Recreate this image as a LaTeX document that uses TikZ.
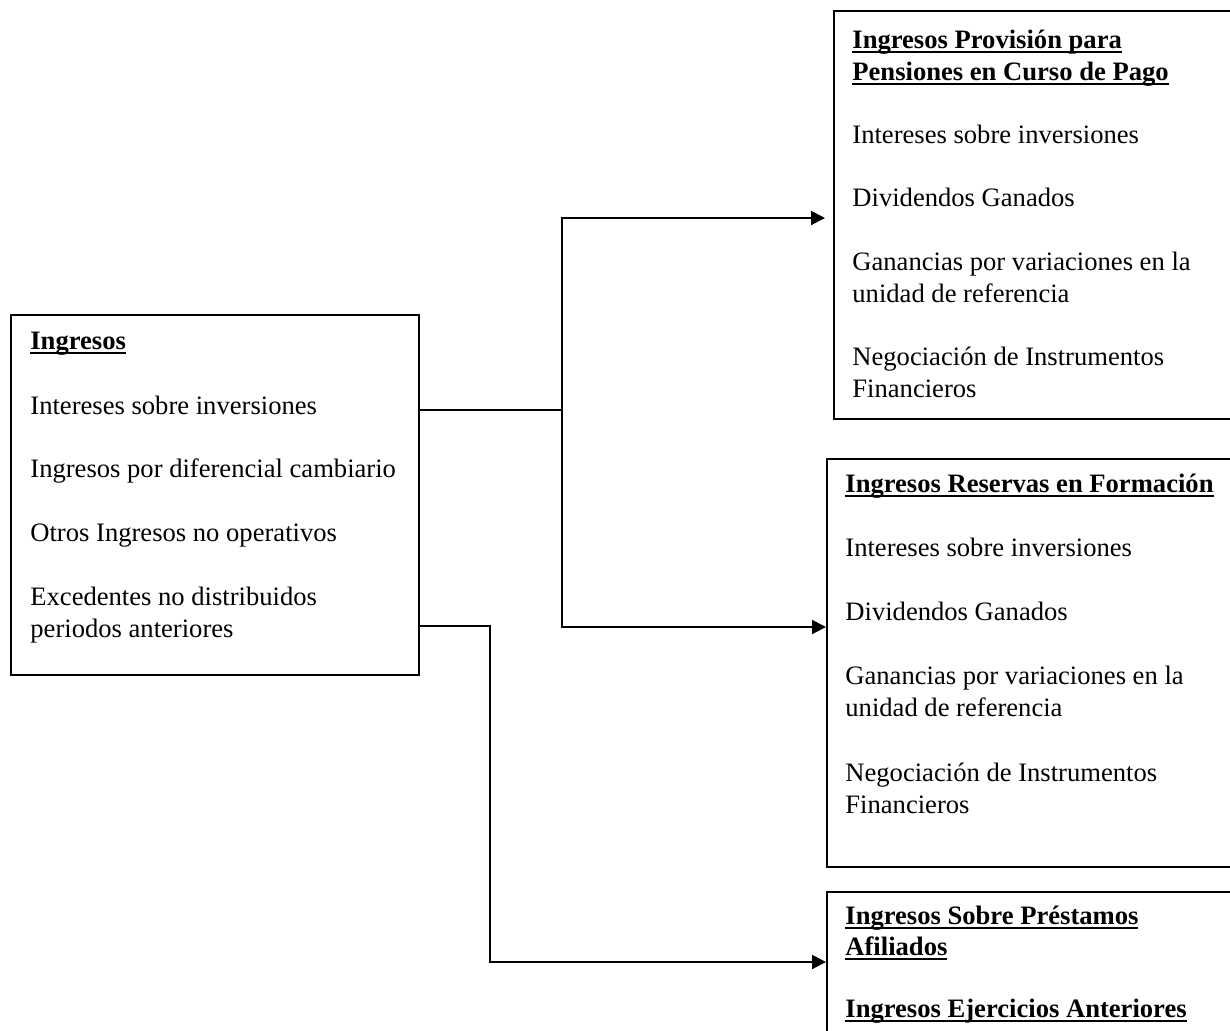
\documentclass[tikz,border=0pt]{standalone}
\usepackage{fontspec}
\setmainfont{Liberation Serif}
\usetikzlibrary{arrows.meta}

% bold heading with a rule just under the baseline
\newcommand{\ulhead}[1]{\setbox0\hbox{\bfseries #1}\rlap{\rule[-2.6pt]{\wd0}{0.9pt}}\box0}

\tikzset{
  box/.style={draw, line width=1pt, rectangle, inner sep=0pt, anchor=north west},
  txt/.style={anchor=base west, inner sep=0pt, font=\fontsize{13.3pt}{16pt}\selectfont},
  link/.style={line width=1pt},
  arr/.style={line width=1pt, -{Triangle[length=7pt,width=7pt]}}
}

\begin{document}
\begin{tikzpicture}[x=0.5pt, y=-0.5pt]
\useasboundingbox (0,0) rectangle (1230,1030);
\clip (0,0) rectangle (1230,1030);

% boxes
\node[box, minimum width=204pt, minimum height=180pt] (ing) at (10,314) {};
\node[box, minimum width=205pt, minimum height=204pt] (pen) at (833,10) {};
\node[box, minimum width=208pt, minimum height=204pt] (res) at (826,458) {};
\node[box, minimum width=208pt, minimum height=80pt]  (pre) at (826,891) {};

% Ingresos
\node[txt] (i0) at (30,349) {\ulhead{Ingresos}};
\node[txt] (i1) at (30,414) {Intereses sobre inversiones};
\node[txt] (i2) at (30,477) {Ingresos por diferencial cambiario};
\node[txt] (i3) at (30,541) {Otros Ingresos no operativos};
\node[txt] (i4) at (30,605) {Excedentes no distribuidos};
\node[txt] (i5) at (30,637) {periodos anteriores};

% Provision para pensiones
\node[txt] (p0) at (852,48)  {\ulhead{Ingresos Provisión para}};
\node[txt] (p1) at (852,80)  {\ulhead{Pensiones en Curso de Pago}};
\node[txt] (p2) at (852,143) {Intereses sobre inversiones};
\node[txt] (p3) at (852,206) {Dividendos Ganados};
\node[txt] (p4) at (852,270) {Ganancias por variaciones en la};
\node[txt] (p5) at (852,302) {unidad de referencia};
\node[txt] (p6) at (852,365) {Negociación de Instrumentos};
\node[txt] (p7) at (852,397) {Financieros};

% Reservas en formacion
\node[txt] (r0) at (845,492) {\ulhead{Ingresos Reservas en Formación}};
\node[txt] (r1) at (845,556) {Intereses sobre inversiones};
\node[txt] (r2) at (845,620) {Dividendos Ganados};
\node[txt] (r3) at (845,684) {Ganancias por variaciones en la};
\node[txt] (r4) at (845,716) {unidad de referencia};
\node[txt] (r5) at (845,781) {Negociación de Instrumentos};
\node[txt] (r6) at (845,813) {Financieros};

% Prestamos y ejercicios anteriores
\node[txt] (e0) at (845,924)  {\ulhead{Ingresos Sobre Préstamos}};
\node[txt] (e1) at (845,955)  {\ulhead{Afiliados}};
\node[txt] (e2) at (845,1017) {\ulhead{Ingresos Ejercicios Anteriores}};

% connectors
\coordinate (j1) at (562,410);
\coordinate (j2) at (490,626);
\coordinate (t1) at (825,218);
\coordinate (y2) at (0,627);
\coordinate (y3) at (0,962);

\draw[link] (ing.east |- j1) -- (j1);
\draw[arr] (j1) |- (t1);
\draw[arr] (j1) |- (res.west |- y2);
\draw[arr] (ing.east |- j2) -- (j2) |- (pre.west |- y3);
\end{tikzpicture}
\end{document}
